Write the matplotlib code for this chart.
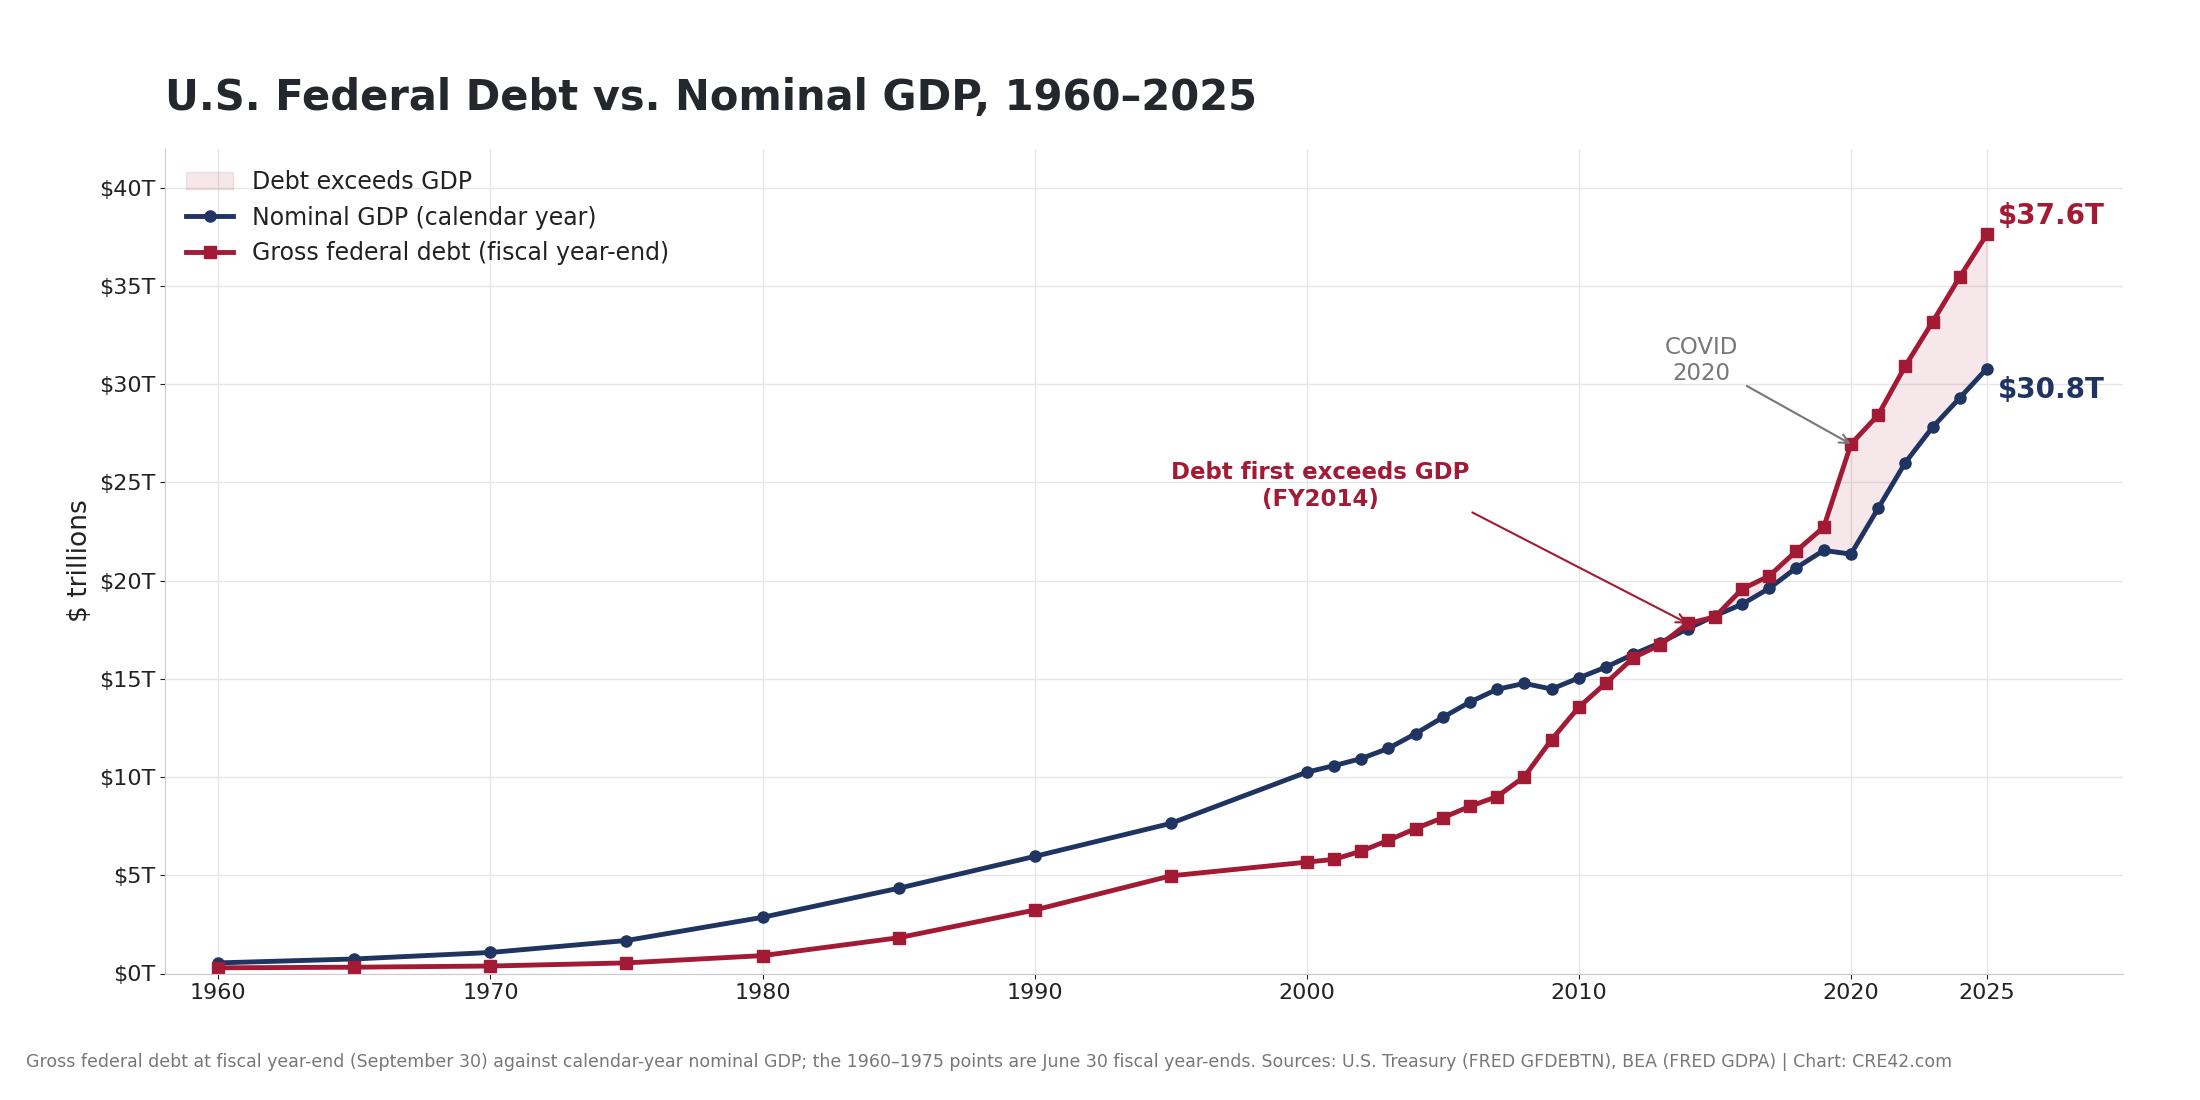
import matplotlib
matplotlib.use("Agg")
import matplotlib.pyplot as plt
import numpy as np

years = [1960,1965,1970,1975,1980,1985,1990,1995,2000,2001,2002,2003,2004,2005,2006,2007,2008,2009,2010,2011,2012,2013,2014,2015,2016,2017,2018,2019,2020,2021,2022,2023,2024,2025]
gdp = [0.54,0.74,1.07,1.68,2.86,4.34,5.96,7.64,10.25,10.58,10.94,11.46,12.21,13.04,13.82,14.47,14.77,14.48,15.05,15.6,16.25,16.84,17.55,18.21,18.80,19.61,20.66,21.54,21.35,23.68,26.01,27.81,29.30,30.80]
debt = [0.29,0.32,0.38,0.54,0.91,1.82,3.23,4.97,5.67,5.81,6.23,6.78,7.38,7.93,8.51,9.01,10.02,11.91,13.56,14.79,16.07,16.74,17.82,18.15,19.57,20.24,21.52,22.72,26.95,28.43,30.93,33.17,35.46,37.64]
xticks = [1960,1970,1980,1990,2000,2010,2020,2025]

NAVY = "#1f3461"; RED = "#a31a35"
fig = plt.figure(figsize=(22,11), dpi=100)
ax = fig.add_axes([0.075,0.115,0.89,0.75])
y = np.array(years); g = np.array(gdp); d = np.array(debt)
ax.fill_between(y, g, d, where=d>g, interpolate=True, color=RED, alpha=0.1, label="Debt exceeds GDP")
ax.plot(y, g, color=NAVY, lw=3.5, marker="o", ms=8, label="Nominal GDP (calendar year)")
ax.plot(y, d, color=RED, lw=3.5, marker="s", ms=8, label="Gross federal debt (fiscal year-end)")
ax.set_xlim(1958.04, 2030)
ax.set_ylim(0, 42)
ax.set_xticks(xticks)
ax.set_yticks(range(0,41,5))
ax.set_yticklabels([f"${v}T" for v in range(0,41,5)])
ax.tick_params(labelsize=16, colors="#222222")
ax.grid(True, color="#e6e6e6", lw=1)
ax.set_axisbelow(True)
for s in ["top","right"]: ax.spines[s].set_visible(False)
for s in ["left","bottom"]: ax.spines[s].set_color("#cccccc")
ax.set_ylabel("$ trillions", fontsize=19, color="#222222")
leg = ax.legend(loc="upper left", fontsize=17, frameon=False, labelcolor="#222222")
fig.text(0.075, 0.9, "U.S. Federal Debt vs. Nominal GDP, 1960–2025", fontsize=30, fontweight="bold", color="#24272b")
fig.text(0.012, 0.03, "Gross federal debt at fiscal year-end (September 30) against calendar-year nominal GDP; the 1960–1975 points are June 30 fiscal year-ends. Sources: U.S. Treasury (FRED GFDEBTN), BEA (FRED GDPA) | Chart: CRE42.com", fontsize=12.5, color="#777777")
ax.text(2025.4, debt[-1]+0.2, f"${debt[-1]:.1f}T", color=RED, fontsize=20, fontweight="bold", va="bottom")
ax.text(2025.4, gdp[-1]-0.4, f"${gdp[-1]:.1f}T", color=NAVY, fontsize=20, fontweight="bold", va="top")
ax.annotate("Debt first exceeds GDP\n(FY2014)", xy=(2014, debt[years.index(2014)]), xytext=(2000.5, 23.8),
            ha="center", color=RED, fontsize=16.5, fontweight="bold",
            arrowprops=dict(arrowstyle="->", color=RED, lw=1.5, shrinkA=0, shrinkB=0, relpos=(1.0,0.0)))
ax.annotate("COVID\n2020", xy=(2020, debt[years.index(2020)]), xytext=(2014.5, 30.2),
            ha="center", color="#777777", fontsize=16.5,
            arrowprops=dict(arrowstyle="->", color="#777777", lw=1.5, shrinkA=5, shrinkB=0))
fig.savefig("out.png", dpi=100)
